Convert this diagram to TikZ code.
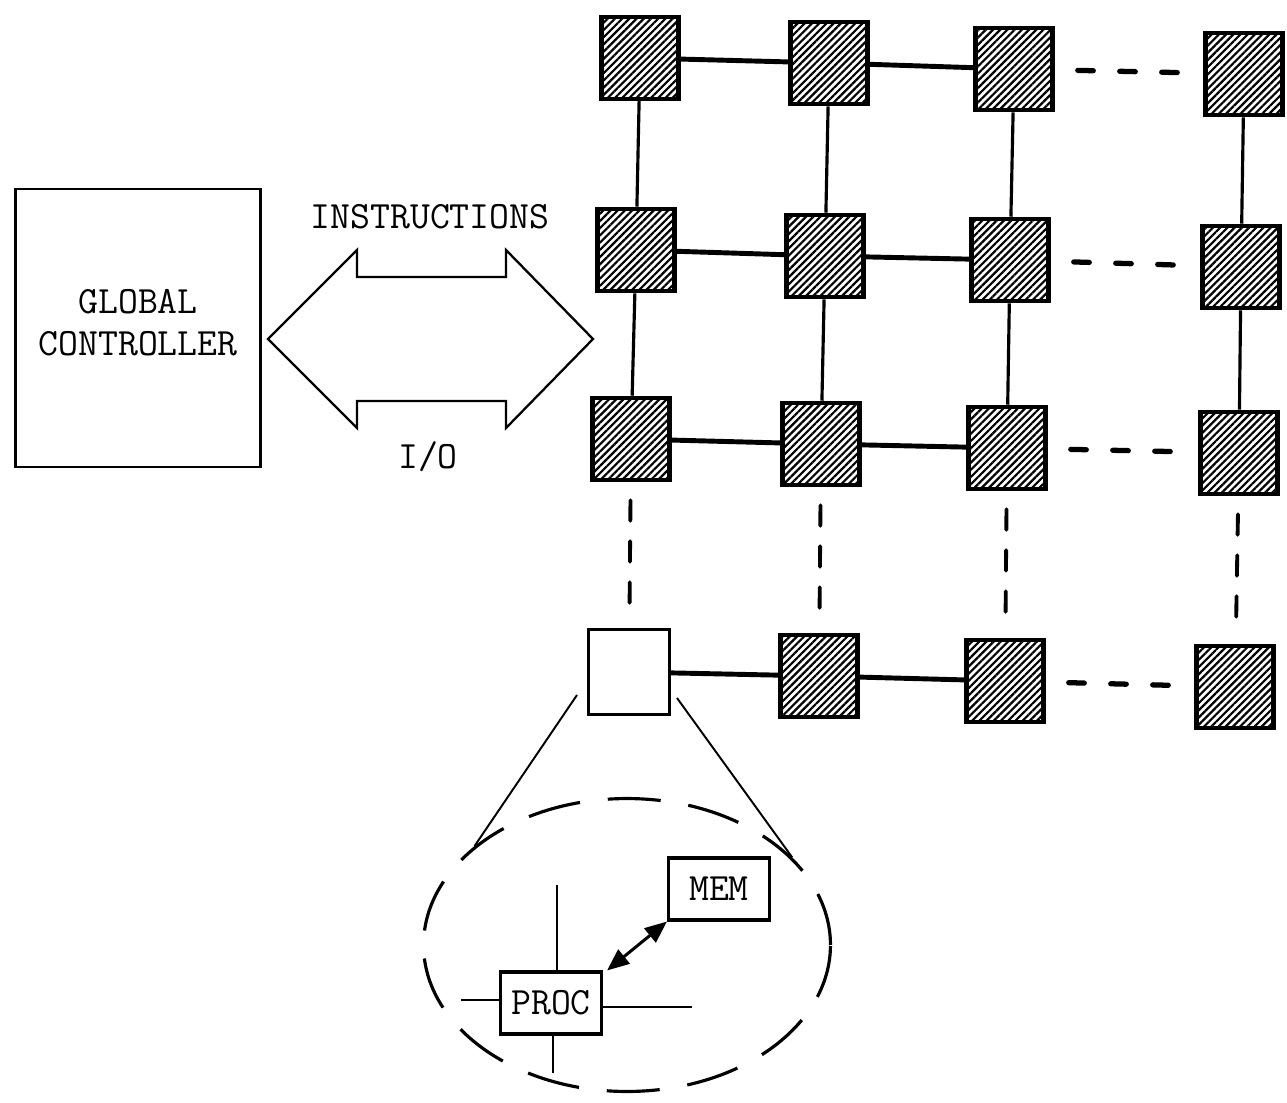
\documentclass[tikz,border=0pt]{standalone}
\usepackage{fontspec}
\usetikzlibrary{patterns.meta,shapes.geometric,arrows.meta}
\begin{document}
\begin{tikzpicture}[x=0.02cm,y=-0.02cm,
  lbl/.style={font=\ttfamily\fontsize{22}{23.8}\selectfont, inner sep=0pt},
  pe/.style={draw, line width=2.6pt, minimum width=1.54cm, minimum height=1.64cm, inner sep=0pt,
    pattern={Lines[angle=45,distance=2.9pt,line width=1.25pt]}},
  pewhite/.style={draw, line width=1.8pt, minimum width=1.62cm, minimum height=1.7cm, inner sep=0pt, fill=white},
  hlink/.style={line width=2.8pt},
  vlink/.style={line width=1.8pt},
  hdash/.style={line width=3pt, line cap=round, dash pattern=on 0.31cm off 0.53cm, shorten <=0.46cm, shorten >=0.46cm},
  vdash/.style={line width=2.2pt, line cap=round, dash pattern=on 0.41cm off 0.41cm, shorten <=0.36cm, shorten >=0.44cm},
  smallbox/.style={draw, line width=1.8pt, minimum width=2.02cm, minimum height=1.24cm, lbl},
  crossline/.style={line width=1.5pt},
  zoomline/.style={line width=1.1pt},
]
\useasboundingbox (0,0) rectangle (1287,1102);

% global controller
\node[draw, line width=1.5pt, minimum width=4.9cm, minimum height=5.56cm, inner sep=0pt] (gc) at (138,328) {};
\node[lbl, align=center] (gctext) at (138,322.5) {GLOBAL\\CONTROLLER};

% double arrow
\coordinate (al) at (268,339);
\coordinate (ar) at (593,339);
\draw[line width=1.3pt, line join=miter] (al) -- (357,250) -- (357,277) -- (506,277) -- (506,250) -- (ar)
  -- (506,428) -- (506,401) -- (357,401) -- (357,428) -- cycle;
\node[lbl, anchor=base] (instr) at (430,228) {INSTRUCTIONS};
\node[lbl, anchor=base] (io) at (428,468) {I/O};

% grid of processing elements
\node[pe] (r1c1) at (640,58) {};
\node[pe] (r1c2) at (829,63) {};
\node[pe] (r1c3) at (1014,69) {};
\node[pe] (r1c4) at (1244,74) {};
\node[pe] (r2c1) at (636,250) {};
\node[pe] (r2c2) at (825,256) {};
\node[pe] (r2c3) at (1010,260) {};
\node[pe] (r2c4) at (1241,267) {};
\node[pe] (r3c1) at (631,439) {};
\node[pe] (r3c2) at (821,444) {};
\node[pe] (r3c3) at (1007,448) {};
\node[pe] (r3c4) at (1239,453) {};
\node[pewhite] (r4c1) at (629,672) {};
\node[pe] (r4c2) at (819,676) {};
\node[pe] (r4c3) at (1005,681) {};
\node[pe] (r4c4) at (1235,687) {};

% horizontal links
\foreach \r in {1,2,3,4}{
  \draw[hlink] (r\r c1) -- (r\r c2);
  \draw[hlink] (r\r c2) -- (r\r c3);
  \draw[hdash] (r\r c3) -- (r\r c4);
}
% vertical links
\foreach \c in {1,2,3,4}{
  \draw[vlink] (r1c\c) -- (r2c\c);
  \draw[vlink] (r2c\c) -- (r3c\c);
  \draw[vdash] (r3c\c) -- (r4c\c);
}

% magnified view
\node[ellipse, draw, line width=1.8pt, dash pattern=on 1.06cm off 0.56cm, minimum width=8.14cm, minimum height=5.86cm, inner sep=0pt] (lens) at (627,945) {};
\coordinate (zl) at (577,695);
\coordinate (zr) at (677,698);
\draw[zoomline] (zl) -- (lens.147);
\draw[zoomline] (zr) -- (lens.28);

\node[smallbox] (mem) at (719,889) {MEM};
\node[smallbox] (proc) at (551,1003) {PROC};

\coordinate (pN) at (557,885);
\coordinate (pS) at (553,1073);
\coordinate (pW) at (461,1000);
\coordinate (pE) at (692,1007);
\draw[crossline] (pN) -- (pN |- proc.north);
\draw[crossline] (pS) -- (pS |- proc.south);
\draw[crossline] (pW) -- (pW -| proc.west);
\draw[crossline] (pE) -- (pE -| proc.east);

\draw[line width=1.7pt, {Triangle[length=0.44cm,width=0.36cm]}-{Triangle[length=0.44cm,width=0.36cm]}]
  ([xshift=0.08cm]proc.north east) -- (mem.south west);
\end{tikzpicture}
\end{document}
